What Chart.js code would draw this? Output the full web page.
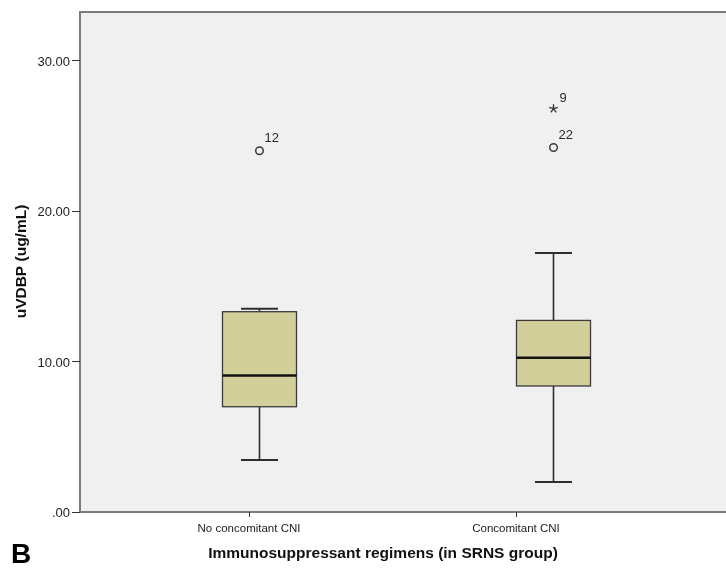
<!DOCTYPE html>
<html>
<head>
<meta charset="utf-8">
<title>uVDBP by immunosuppressant regimen</title>
<style>
  html, body { margin: 0; padding: 0; background: #ffffff; }
  #wrap { width: 726px; height: 569px; position: relative; }
  canvas { display: block; }
</style>
<script src="https://cdn.jsdelivr.net/npm/chart.js@4/dist/chart.umd.min.js"></script>
</head>
<body>
<div id="wrap"><canvas id="chart" width="726" height="569"></canvas></div>
<script>
// Box-plot summary per regimen (uVDBP, ug/mL)
const categories   = ['No concomitant CNI', 'Concomitant CNI'];
const whiskerLow   = [3.46, 1.99];
const quartile1    = [7.00, 8.38];
const medianValue  = [9.08, 10.26];
const quartile3    = [13.32, 12.74];
const whiskerHigh  = [13.52, 17.22];

// Outlying cases: category index, value, case number, marker kind
const outlierCategory = [0, 1, 1];
const outlierValue    = [24.02, 24.24, 26.82];
const outlierCase     = ['12', '22', '9'];
const outlierKind     = ['circle', 'circle', 'star'];

const yTickValues = [0, 10, 20, 30];

const yTitle = 'uVDBP (ug/mL)';
const xTitle = 'Immunosuppressant regimens (in SRNS group)';
const panelLetter = 'B';

const FONT = '"Liberation Sans", Arial, sans-serif';

const boxPlotPlugin = {
  id: 'boxPlot',
  beforeDraw(chart, args, opts) {
    const { ctx, chartArea: a } = chart;
    ctx.save();
    ctx.fillStyle = '#ffffff';
    ctx.fillRect(0, 0, chart.width, chart.height);
    ctx.fillStyle = '#f0f0f0';
    ctx.fillRect(a.left, a.top, a.right - a.left, a.bottom - a.top);
    ctx.strokeStyle = '#7c7c7c';
    ctx.lineWidth = 2;
    ctx.beginPath();
    ctx.moveTo(a.right + 2, a.top);
    ctx.lineTo(a.left, a.top);
    ctx.lineTo(a.left, a.bottom);
    ctx.lineTo(a.right + 2, a.bottom);
    ctx.stroke();
    ctx.restore();
  },
  afterDatasetsDraw(chart, args, opts) {
    const { ctx } = chart;
    const xs = chart.scales.x, ys = chart.scales.y;
    const half = opts.boxHalfWidth, capHalf = opts.capHalfWidth;
    const cx = i => Math.round(xs.getPixelForValue(i) + opts.nudgePx[i]) + 0.5;
    const py = v => ys.getPixelForValue(v);
    ctx.save();
    categories.forEach((name, i) => {
      const x = cx(i);
      const yLo = py(whiskerLow[i]), yQ1 = py(quartile1[i]), yMed = py(medianValue[i]);
      const yQ3 = py(quartile3[i]), yHi = py(whiskerHigh[i]);
      // whiskers
      ctx.strokeStyle = '#2e2e2e';
      ctx.lineWidth = 1.6;
      ctx.beginPath();
      ctx.moveTo(x, yQ1); ctx.lineTo(x, yLo);
      ctx.moveTo(x, yQ3); ctx.lineTo(x, yHi);
      ctx.stroke();
      ctx.lineWidth = 2;
      ctx.beginPath();
      ctx.moveTo(x - capHalf, yLo); ctx.lineTo(x + capHalf, yLo);
      ctx.moveTo(x - capHalf, yHi); ctx.lineTo(x + capHalf, yHi);
      ctx.stroke();
      // box
      ctx.fillStyle = '#d3cf9b';
      ctx.fillRect(x - half, yQ3, half * 2, yQ1 - yQ3);
      ctx.strokeStyle = '#3a3a3a';
      ctx.lineWidth = 1.3;
      ctx.strokeRect(x - half, yQ3, half * 2, yQ1 - yQ3);
      // median
      ctx.strokeStyle = '#111111';
      ctx.lineWidth = 2.4;
      ctx.beginPath();
      ctx.moveTo(x - half, yMed); ctx.lineTo(x + half, yMed);
      ctx.stroke();
    });
    // outliers and extremes
    outlierValue.forEach((v, k) => {
      const x = cx(outlierCategory[k]);
      const y = py(v);
      ctx.strokeStyle = '#3a3a3a';
      if (outlierKind[k] === 'circle') {
        ctx.lineWidth = 1.5;
        ctx.beginPath();
        ctx.arc(x, y, 3.8, 0, Math.PI * 2);
        ctx.stroke();
      } else {
        ctx.lineWidth = 1.4;
        ctx.beginPath();
        for (let s = 0; s < 5; s++) {
          const ang = -Math.PI / 2 + s * 2 * Math.PI / 5;
          ctx.moveTo(x, y);
          ctx.lineTo(x + 4.5 * Math.cos(ang), y + 4.5 * Math.sin(ang));
        }
        ctx.stroke();
      }
      ctx.fillStyle = '#2a2a2a';
      ctx.font = '13px ' + FONT;
      ctx.textAlign = 'left';
      ctx.textBaseline = 'middle';
      const dx = outlierKind[k] === 'star' ? 6 : 5;
      const dy = outlierKind[k] === 'star' ? -10.5 : -12;
      ctx.fillText(outlierCase[k], x + dx, y + dy);
    });
    ctx.restore();
  },
  afterDraw(chart, args, opts) {
    const { ctx } = chart;
    ctx.save();
    ctx.fillStyle = '#111111';
    ctx.font = 'bold 15.5px ' + FONT;
    ctx.textAlign = 'center';
    ctx.textBaseline = 'alphabetic';
    ctx.fillText(xTitle, 383, 558);
    ctx.save();
    ctx.translate(26, 261.5);
    ctx.rotate(-Math.PI / 2);
    ctx.fillText(yTitle, 0, 0);
    ctx.restore();
    ctx.fillStyle = '#000000';
    ctx.font = 'bold 28px ' + FONT;
    ctx.textAlign = 'left';
    ctx.fillText(panelLetter, 11, 563);
    ctx.restore();
  }
};

new Chart(document.getElementById('chart'), {
  type: 'scatter',
  data: { datasets: [{ data: [] }] },
  plugins: [boxPlotPlugin],
  options: {
    responsive: false,
    animation: false,
    devicePixelRatio: 1,
    layout: { padding: { top: 12, left: 0, right: 0, bottom: 0 } },
    plugins: {
      legend: { display: false },
      tooltip: { enabled: false },
      boxPlot: { nudgePx: [10, 37], boxHalfWidth: 37, capHalfWidth: 18.5 }
    },
    scales: {
      x: {
        type: 'linear',
        min: -0.633,
        max: 1.7865,
        afterBuildTicks: s => { s.ticks = categories.map((_, i) => ({ value: i })); },
        afterFit: s => { s.height = 57; },
        border: { display: false },
        grid: { drawOnChartArea: false, tickLength: 5, color: '#333333', lineWidth: 1 },
        ticks: {
          autoSkip: false,
          maxRotation: 0,
          padding: 5,
          color: '#222222',
          font: { family: FONT, size: 11.5 },
          callback: v => categories[v]
        }
      },
      y: {
        min: 0,
        max: 33.25,
        afterBuildTicks: s => { s.ticks = yTickValues.map(v => ({ value: v })); },
        afterFit: s => { s.width = 80; },
        border: { display: false },
        grid: { drawOnChartArea: false, tickLength: 8, color: '#333333', lineWidth: 1 },
        ticks: {
          padding: 2,
          labelOffset: 1.5,
          color: '#222222',
          font: { family: FONT, size: 13 },
          callback: v => (v === 0 ? '.00' : v.toFixed(2))
        }
      }
    }
  }
});
</script>
</body>
</html>
